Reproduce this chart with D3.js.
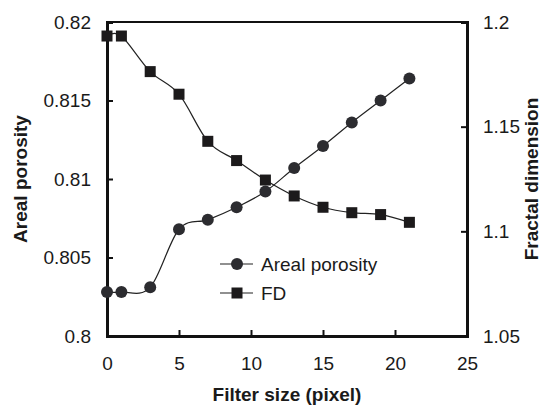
<!DOCTYPE html>
<html>
<head>
<meta charset="utf-8">
<script src="https://cdn.jsdelivr.net/npm/d3@7"></script>
<style>
  html, body { margin: 0; padding: 0; background: #fff; }
  svg { display: block; font-family: "Liberation Sans", Arial, Helvetica, sans-serif; }
</style>
</head>
<body>
<svg id="chart" width="541" height="407"></svg>
<script>
// Filter sizes (pixel)
const filterSize = [0, 1, 3, 5, 7, 9, 11, 13, 15, 17, 19, 21];
// Areal porosity (left axis)
const arealPorosity = [0.8028, 0.8028, 0.8031, 0.8068, 0.8074, 0.8082, 0.8092, 0.8107, 0.8121, 0.8136, 0.8150, 0.8164];
// Fractal dimension (right axis)
const fractalDim = [1.1933, 1.1933, 1.1763, 1.1655, 1.1430, 1.1338, 1.1245, 1.1169, 1.1115, 1.1089, 1.1080, 1.1043];

const xTicks = [0, 5, 10, 15, 20, 25];
const yLeftTicks = [0.8, 0.805, 0.81, 0.815, 0.82];
const yRightTicks = [1.05, 1.1, 1.15, 1.2];
const seriesNames = ["Areal porosity", "FD"];

const svg = d3.select("#chart");
const L = 107, R = 467, T = 22, B = 336;
const fs = 19;

const x = d3.scaleLinear().domain([0, 25]).range([L, R]);
const yL = d3.scaleLinear().domain([0.8, 0.82]).range([B, T]);
const yR = d3.scaleLinear().domain([1.05, 1.2]).range([B, T]);

// Frame: top line thinner, axes heavier
svg.append("line").attr("x1", L).attr("x2", R).attr("y1", T).attr("y2", T)
  .attr("stroke", "#111").attr("stroke-width", 2);

const fmtL = d => String(+d.toFixed(3));

const gx = svg.append("g").attr("transform", `translate(0,${B})`)
  .call(d3.axisBottom(x).tickValues(xTicks).tickSize(-6).tickPadding(21).tickFormat(d3.format("d")));
const gl = svg.append("g").attr("transform", `translate(${L},0)`)
  .call(d3.axisLeft(yL).tickValues(yLeftTicks).tickSize(-6).tickPadding(16).tickFormat(fmtL));
const gr = svg.append("g").attr("transform", `translate(${R},0)`)
  .call(d3.axisRight(yR).tickValues(yRightTicks).tickSize(-6).tickPadding(16).tickFormat(d => String(+d.toFixed(2))));

[gx, gl, gr].forEach(g => {
  g.select(".domain").attr("stroke", "#111").attr("stroke-width", 3);
  g.selectAll(".tick line").attr("stroke", "#111").attr("stroke-width", 2);
  g.selectAll(".tick text").attr("fill", "#1a1a1a").style("font-size", fs + "px");
});
// end tick marks coincide with the frame
gx.selectAll(".tick line").filter(d => d === 0 || d === 25).remove();
gl.selectAll(".tick line").filter(d => d === 0.8 || d === 0.82).remove();
gr.selectAll(".tick line").filter(d => d === 1.05 || d === 1.2).remove();

// Axis titles
svg.append("text").attr("x", (L + R) / 2).attr("y", 401).attr("text-anchor", "middle")
  .style("font-size", fs + "px").style("font-weight", "bold").attr("fill", "#1a1a1a")
  .text("Filter size (pixel)");
svg.append("text").attr("transform", `translate(27,${(T + B) / 2}) rotate(-90)`).attr("text-anchor", "middle")
  .style("font-size", fs + "px").style("font-weight", "bold").attr("fill", "#1a1a1a")
  .text("Areal porosity");
svg.append("text").attr("transform", `translate(538,${(T + B) / 2}) rotate(-90)`).attr("text-anchor", "middle")
  .style("font-size", fs + "px").style("font-weight", "bold").attr("fill", "#1a1a1a")
  .text("Fractal dimension");

const curve = d3.curveCardinal.tension(0);
const porData = filterSize.map((f, i) => [f, arealPorosity[i]]);
const fdData = filterSize.map((f, i) => [f, fractalDim[i]]);

svg.append("path").datum(fdData)
  .attr("d", d3.line().x(d => x(d[0])).y(d => yR(d[1])).curve(curve))
  .attr("fill", "none").attr("stroke", "#222").attr("stroke-width", 1.2);
svg.append("path").datum(porData)
  .attr("d", d3.line().x(d => x(d[0])).y(d => yL(d[1])).curve(curve))
  .attr("fill", "none").attr("stroke", "#222").attr("stroke-width", 1.2);

const sq = 11;
svg.append("g").selectAll("rect").data(fdData).join("rect")
  .attr("x", d => x(d[0]) - sq / 2).attr("y", d => yR(d[1]) - sq / 2)
  .attr("width", sq).attr("height", sq).attr("fill", "#1c1a1b");
svg.append("g").selectAll("circle").data(porData).join("circle")
  .attr("cx", d => x(d[0])).attr("cy", d => yL(d[1])).attr("r", 6).attr("fill", "#2c2c30");

// Legend
const lg = svg.append("g");
const legY = [264, 293];
lg.append("line").attr("x1", 220).attr("x2", 253).attr("y1", legY[0]).attr("y2", legY[0]).attr("stroke", "#222").attr("stroke-width", 1.2);
lg.append("circle").attr("cx", 237).attr("cy", legY[0]).attr("r", 6).attr("fill", "#2c2c30");
lg.append("line").attr("x1", 220).attr("x2", 253).attr("y1", legY[1]).attr("y2", legY[1]).attr("stroke", "#222").attr("stroke-width", 1.2);
lg.append("rect").attr("x", 237 - sq / 2).attr("y", legY[1] - sq / 2).attr("width", sq).attr("height", sq).attr("fill", "#1c1a1b");
seriesNames.forEach((n, i) => {
  lg.append("text").attr("x", 261).attr("y", legY[i]).attr("dy", "0.35em")
    .style("font-size", fs + "px").attr("fill", "#1a1a1a").text(n);
});
</script>
</body>
</html>
